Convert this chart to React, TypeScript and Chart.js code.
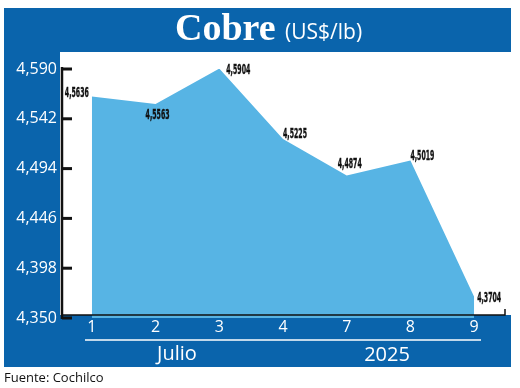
import React, { useEffect, useRef } from "react";
import { Chart, registerables } from "chart.js";

Chart.register(...registerables);

const days = ["1", "2", "3", "4", "7", "8", "9"];
const prices = [4.5636, 4.5563, 4.5904, 4.5225, 4.4874, 4.5019, 4.3704];
const yTicks = [4.35, 4.398, 4.446, 4.494, 4.542, 4.59];
const title = "Cobre";
const unit = "(US$/lb)";
const monthLabel = "Julio";
const yearLabel = "2025";
const source = "Fuente: Cochilco";

const DARK = "#0a64ac";
const LIGHT = "#57b4e4";

const fmt = (v: number, d: number) => v.toFixed(d).replace(".", ",");

// label placement relative to each point: [align, dx, dy]
const labelPos: [CanvasTextAlign, number, number][] = [
  ["right", -3, -3],
  ["center", 2, 11],
  ["left", 7, 2],
  ["left", 0, -5],
  ["center", 3, -11],
  ["left", 0, -4],
  ["left", 3, 2],
];

const decor = {
  id: "decor",
  beforeDraw(chart: any) {
    const { ctx, width } = chart;
    ctx.save();
    ctx.fillStyle = "#ffffff";
    ctx.fillRect(0, 0, width, chart.height);
    ctx.fillStyle = DARK;
    ctx.fillRect(4, 8, 507, 44); // header
    ctx.fillRect(4, 8, 56, 359); // left column
    ctx.fillRect(4, 315, 507, 52); // bottom band
    ctx.restore();
  },
  afterDatasetsDraw(chart: any) {
    const { ctx, chartArea } = chart;
    const y = chart.scales.y;
    const x = chart.scales.x;
    ctx.save();
    const ax = chartArea.left + 2;
    ctx.strokeStyle = "#111";
    ctx.lineWidth = 2.5;
    ctx.beginPath();
    ctx.moveTo(ax, y.getPixelForValue(yTicks[yTicks.length - 1]) - 2);
    ctx.lineTo(ax, y.getPixelForValue(yTicks[0]) + 1);
    ctx.stroke();
    ctx.lineWidth = 3;
    yTicks.forEach((t) => {
      const py = y.getPixelForValue(t);
      ctx.beginPath();
      ctx.moveTo(ax, py);
      ctx.lineTo(ax + 10, py);
      ctx.stroke();
    });
    const by = y.getPixelForValue(yTicks[0]) - 3;
    ctx.lineWidth = 1.5;
    ctx.beginPath();
    ctx.moveTo(ax, by);
    ctx.lineTo(chartArea.right - 1, by);
    ctx.lineTo(chartArea.right - 1, by - 6);
    ctx.stroke();

    ctx.fillStyle = "#111";
    ctx.strokeStyle = "#111";
    ctx.lineWidth = 0.4;
    ctx.font = 'bold 14px "Liberation Sans Narrow", "DejaVu Sans Condensed", sans-serif';
    ctx.textBaseline = "middle";
    prices.forEach((v, i) => {
      const px = x.getPixelForValue(i);
      const py = y.getPixelForValue(v);
      const [align, dx, dy] = labelPos[i];
      const txt = fmt(v, 4);
      const w = ctx.measureText(txt).width;
      const tw = 24;
      const s = tw / w;
      ctx.save();
      let lx = px + dx;
      if (align === "right") lx -= tw;
      else if (align === "center") lx -= tw / 2;
      ctx.translate(lx, py + dy);
      ctx.scale(s, 1);
      ctx.textAlign = "left";
      ctx.fillText(txt, 0, 0);
      ctx.strokeText(txt, 0, 0);
      ctx.restore();
    });
    ctx.restore();
  },
  afterDraw(chart: any) {
    const { ctx } = chart;
    ctx.save();
    ctx.fillStyle = "#ffffff";
    ctx.textBaseline = "alphabetic";
    ctx.textAlign = "left";
    ctx.font = 'bold 38px "Liberation Serif", serif';
    ctx.fillText(title, 175, 40);
    ctx.font = '21px "Open Sans", sans-serif';
    ctx.fillText(unit, 285, 39);
    ctx.strokeStyle = "#ffffff";
    ctx.lineWidth = 1.5;
    ctx.beginPath();
    ctx.moveTo(85, 340);
    ctx.lineTo(481, 340);
    ctx.stroke();
    ctx.textAlign = "center";
    ctx.textBaseline = "middle";
    ctx.font = '20px "Open Sans", sans-serif';
    ctx.fillText(monthLabel, 177, 354);
    ctx.fillText(yearLabel, 387, 355);
    ctx.fillStyle = "#111";
    ctx.textAlign = "left";
    ctx.font = '13px "Open Sans", sans-serif';
    ctx.fillText(source, 4, 378);
    ctx.restore();
  },
};

export default function App() {
  const ref = useRef<HTMLCanvasElement>(null);
  useEffect(() => {
    if (!ref.current) return;
    const chart = new Chart(ref.current, {
      type: "line",
      data: {
        labels: days,
        datasets: [
          {
            data: prices,
            fill: "start",
            backgroundColor: LIGHT,
            borderColor: LIGHT,
            borderWidth: 0,
            pointRadius: 0,
            tension: 0,
          },
        ],
      },
      options: {
        animation: false,
        responsive: false,
        maintainAspectRatio: false,
        layout: { padding: { left: 0, right: 14, top: 69, bottom: 0 } },
        plugins: { legend: { display: false }, tooltip: { enabled: false } },
        scales: {
          x: {
            type: "category",
            offset: true,
            grid: { display: false, drawTicks: false },
            border: { display: false },
            ticks: {
              color: "#ffffff",
              font: { family: "Open Sans", size: 16 },
              padding: 0,
              maxRotation: 0,
            },
            afterFit(scale: any) {
              scale.height = 70;
            },
          },
          y: {
            min: 4.35,
            max: 4.59,
            grid: { display: false, drawTicks: false },
            border: { display: false },
            afterBuildTicks(scale: any) {
              scale.ticks = yTicks.map((v) => ({ value: v }));
            },
            ticks: {
              color: "#ffffff",
              font: { family: "Open Sans", size: 16 },
              padding: 3,
              callback: (v: any) => fmt(Number(v), 3),
            },
            afterFit(scale: any) {
              scale.width = 60;
            },
          },
        },
      },
      plugins: [decor],
    });
    return () => chart.destroy();
  }, []);
  return (
    <div style={{ position: "fixed", left: 0, top: 0, width: 520, height: 388 }}>
      <canvas ref={ref} width={520} height={388} style={{ width: 520, height: 388 }} />
    </div>
  );
}
